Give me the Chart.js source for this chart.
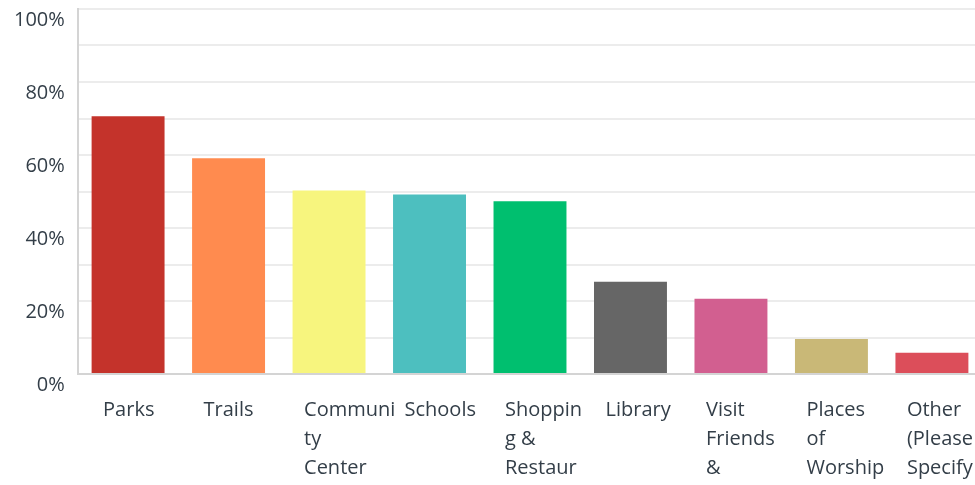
<!DOCTYPE html>
<html>
<head>
<meta charset="utf-8">
<script src="https://cdn.jsdelivr.net/npm/chart.js@4/dist/chart.umd.min.js"></script>
<style>
  html, body { margin: 0; padding: 0; overflow: hidden; background: #fff; }
  #wrap { width: 1020px; height: 550px; margin-top: -16px; }
</style>
</head>
<body>
<div id="wrap"><canvas id="chart" width="1020" height="550"></canvas></div>
<script>
// data
const categories = [
  'Parks', 'Trails', 'Community Center', 'Schools', 'Shopping & Restaurants',
  'Library', 'Visit Friends & Family', 'Places of Worship', 'Other (Please Specify)'
];
const percents = [70.6, 59.1, 50.3, 49.2, 47.3, 25.3, 20.6, 9.6, 5.8];
const barColors = [
  '#c4332b', '#ff8b4f', '#f7f57e', '#4dbfbf', '#00bf6f',
  '#666666', '#d25f90', '#c9b877', '#dc4e5a'
];
const yTickLabels = ['0%', '20%', '40%', '60%', '80%', '100%'];

const textColor = '#333e48';

// the survey tool chops labels into 7 character lines
function wrapLabel(label) {
  const max = 7;
  const lines = [];
  let cur = '';
  label.split(' ').forEach(word => {
    let w = word;
    if (cur && (cur + ' ' + w).length <= max) {
      cur = cur + ' ' + w;
      return;
    }
    if (cur) lines.push(cur);
    cur = '';
    while (w.length > max) {
      lines.push(w.slice(0, max));
      w = w.slice(max);
    }
    cur = w;
  });
  if (cur) lines.push(cur);
  return lines;
}

const ctx = document.getElementById('chart').getContext('2d');

new Chart(ctx, {
  type: 'bar',
  data: {
    labels: categories,
    datasets: [{
      data: percents,
      backgroundColor: barColors,
      borderWidth: 0,
      barPercentage: 0.726,
      categoryPercentage: 1
    }]
  },
  options: {
    responsive: false,
    animation: false,
    layout: { padding: { top: 9, left: 1, right: 0, bottom: 0 } },
    plugins: { legend: { display: false }, tooltip: { enabled: false } },
    scales: {
      x: {
        grid: { display: false, drawTicks: false },
        border: { color: '#d4d4d4', width: 2 },
        ticks: {
          autoSkip: false,
          maxRotation: 0,
          minRotation: 0,
          align: 'start',
          labelOffset: -25,
          padding: 22,
          color: textColor,
          font: { family: 'Open Sans', size: 20, lineHeight: 1.45 },
          callback: (v, i) => wrapLabel(categories[i])
        }
      },
      y: {
        min: 0,
        max: 100,
        grid: { color: '#ececec', lineWidth: 2, drawTicks: false },
        border: { color: '#d4d4d4', width: 2 },
        ticks: {
          stepSize: 10,
          padding: 13,
          labelOffset: 11,
          color: textColor,
          font: { family: 'Open Sans', size: 20 },
          callback: v => (v % 20 === 0 ? yTickLabels[v / 20] : '')
        }
      }
    }
  }
});
</script>
</body>
</html>
